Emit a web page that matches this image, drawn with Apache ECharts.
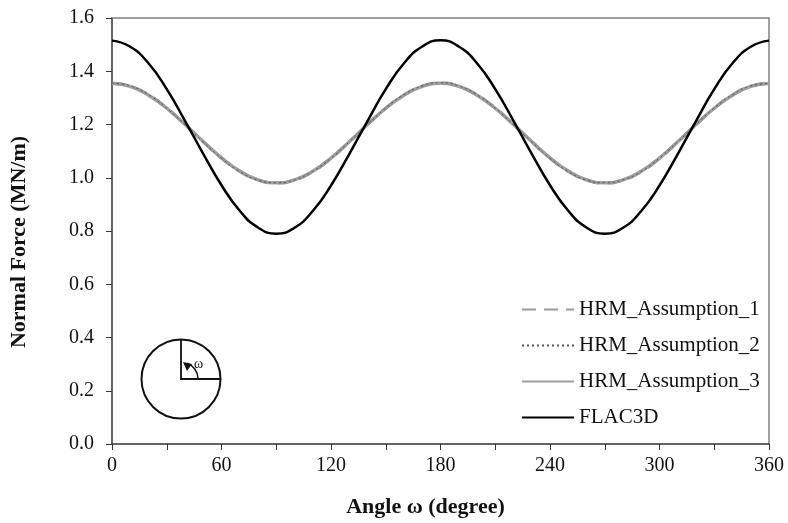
<!DOCTYPE html>
<html>
<head>
<meta charset="utf-8">
<script src="https://cdn.jsdelivr.net/npm/echarts@6/dist/echarts.min.js"></script>
<style>html,body{margin:0;padding:0;background:#fff}#c{width:788px;height:523px}</style>
</head>
<body>
<div id="c"></div>
<script>
var angles = [0,10,20,30,40,50,60,70,80,90,100,110,120,130,140,150,160,170,180,190,200,210,220,230,240,250,260,270,280,290,300,310,320,330,340,350,360];
var hrm1 = [1.355,1.344,1.311,1.262,1.200,1.135,1.074,1.024,0.992,0.980,0.991,1.023,1.073,1.134,1.199,1.261,1.311,1.344,1.356,1.344,1.311,1.262,1.200,1.135,1.074,1.024,0.992,0.980,0.991,1.023,1.073,1.134,1.199,1.261,1.311,1.344,1.355];
var hrm2 = [1.356,1.345,1.312,1.261,1.199,1.134,1.073,1.023,0.991,0.981,0.992,1.024,1.074,1.135,1.200,1.262,1.312,1.345,1.357,1.345,1.312,1.261,1.199,1.134,1.073,1.023,0.991,0.981,0.992,1.024,1.074,1.135,1.200,1.262,1.312,1.345,1.354];
var hrm3 = [1.354,1.343,1.310,1.261,1.200,1.136,1.075,1.025,0.992,0.981,0.992,1.024,1.074,1.135,1.200,1.261,1.310,1.343,1.355,1.343,1.310,1.261,1.200,1.136,1.075,1.025,0.992,0.981,0.992,1.024,1.074,1.135,1.200,1.261,1.310,1.343,1.354];
var flac = [1.515,1.492,1.430,1.333,1.214,1.090,0.972,0.876,0.813,0.790,0.812,0.875,0.971,1.089,1.213,1.333,1.430,1.493,1.516,1.493,1.430,1.333,1.214,1.090,0.972,0.876,0.813,0.790,0.812,0.875,0.971,1.089,1.213,1.333,1.430,1.492,1.515];
var yTicks = ['0.0','0.2','0.4','0.6','0.8','1.0','1.2','1.4','1.6'];

function pairs(v){ return angles.map(function(a,i){ return [a, v[i]]; }); }

var font = 'Liberation Serif';
var chart = echarts.init(document.getElementById('c'));
chart.setOption({
  animation: false,
  backgroundColor: '#fff',
  grid: { left: 110, right: 19, top: 18, bottom: 79 },
  legend: {
    orient: 'vertical', left: 516, top: 294, itemWidth: 52, itemHeight: 16, itemGap: 15,
    itemStyle: { opacity: 0 },
    textStyle: { fontFamily: font, fontSize: 21, color: '#111' },
    data: ['HRM_Assumption_1','HRM_Assumption_2','HRM_Assumption_3','FLAC3D']
  },
  xAxis: [{
    type: 'value', min: 0, max: 360, interval: 60,
    name: 'Angle ω (degree)', nameLocation: 'middle', nameGap: 52,
    nameTextStyle: { fontFamily: font, fontSize: 22, fontWeight: 'bold', color: '#111', padding: [0, 30, 0, 0] },
    axisLine: { lineStyle: { color: '#333', width: 1.5 } },
    axisTick: { show: true, length: 6, lineStyle: { color: '#333' } },
    minorTick: { show: true, splitNumber: 2, length: 6, lineStyle: { color: '#333' } },
    splitLine: { show: false },
    axisLabel: { fontFamily: font, fontSize: 20, color: '#111', margin: 12 }
  }, {
    type: 'value', position: 'top', min: 0, max: 360,
    axisLine: { show: true, onZero: false, lineStyle: { color: '#808080', width: 1.5 } },
    axisTick: { show: false }, axisLabel: { show: false }, splitLine: { show: false }
  }],
  yAxis: [{
    type: 'value', min: 0, max: 1.6, interval: 0.2,
    name: 'Normal Force (MN/m)', nameLocation: 'middle', nameGap: 82, nameRotate: 90,
    nameTextStyle: { fontFamily: font, fontSize: 22, fontWeight: 'bold', color: '#111', padding: [0, 22, 0, 0] },
    axisLine: { show: true, lineStyle: { color: '#333', width: 1.5 } },
    axisTick: { show: true, length: 6, lineStyle: { color: '#333' } },
    splitLine: { show: false },
    axisLabel: { fontFamily: font, fontSize: 20, color: '#111', margin: 18,
      formatter: function(v){ return yTicks[Math.round(v/0.2)]; } }
  }, {
    type: 'value', position: 'right', min: 0, max: 1.6,
    axisLine: { show: true, onZero: false, lineStyle: { color: '#808080', width: 1.5 } },
    axisTick: { show: false }, axisLabel: { show: false }, splitLine: { show: false }
  }],
  series: [
    { name: 'HRM_Assumption_3', type: 'line', data: pairs(hrm3), smooth: true, showSymbol: false, symbol: 'none',
      lineStyle: { color: '#a0a0a0', width: 3.5 }, itemStyle: { color: '#a0a0a0' }, z: 2 },
    { name: 'HRM_Assumption_1', type: 'line', data: pairs(hrm1), smooth: true, showSymbol: false, symbol: 'none',
      lineStyle: { color: '#999', width: 3, type: [14, 8] }, itemStyle: { color: '#999' }, z: 3 },
    { name: 'HRM_Assumption_2', type: 'line', data: pairs(hrm2), smooth: true, showSymbol: false, symbol: 'none',
      lineStyle: { color: '#555', width: 1, type: [2, 3] }, itemStyle: { color: '#222' }, z: 4 },
    { name: 'FLAC3D', type: 'line', data: pairs(flac), smooth: true, showSymbol: false, symbol: 'none',
      lineStyle: { color: '#000', width: 2.5 }, itemStyle: { color: '#000' }, z: 5 }
  ],
  graphic: [
    { type: 'circle', shape: { cx: 181, cy: 379, r: 39.5 }, style: { fill: 'none', stroke: '#111', lineWidth: 2 } },
    { type: 'polyline', shape: { points: [[181, 339.5], [181, 379], [220.5, 379]] }, style: { fill: 'none', stroke: '#111', lineWidth: 1.8 } },
    { type: 'arc', shape: { cx: 181, cy: 379, r: 17, startAngle: -0.05, endAngle: -1.2, clockwise: false }, style: { fill: 'none', stroke: '#111', lineWidth: 1.5 } },
    { type: 'polygon', shape: { points: [[183, 362], [192, 364], [187, 371]] }, style: { fill: '#111' } },
    { type: 'text', left: 194, top: 357, style: { text: 'ω', fontFamily: font, fontSize: 14, fill: '#111' } }
  ]
});
</script>
</body>
</html>
